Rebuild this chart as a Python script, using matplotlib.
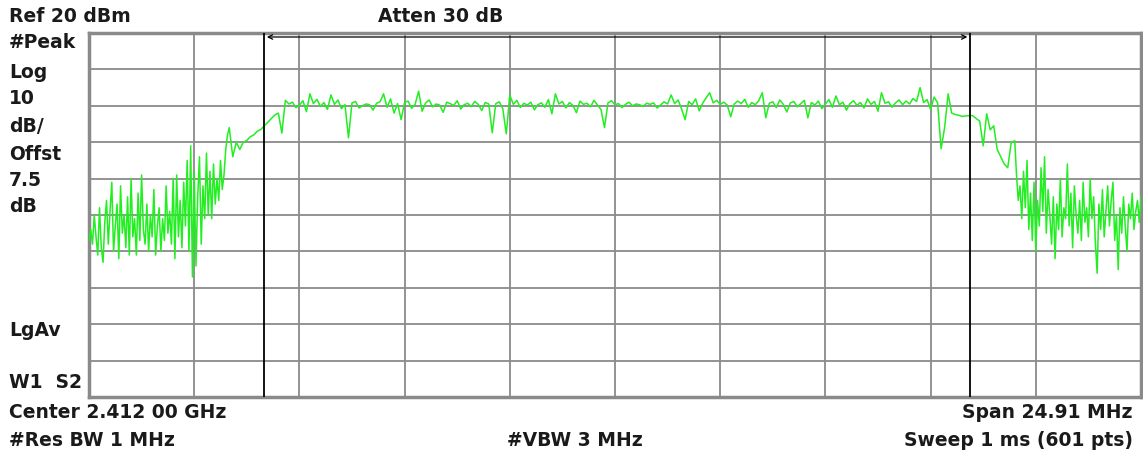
import numpy as np
import matplotlib.pyplot as plt

# sweep settings
center_mhz = 2412.0
span_mhz = 24.91
n_points = 601
ref_level = 20
db_per_div = 10
marker_freqs = [2403.69, 2420.41]

# trace (dBm). noisy skirts at every sweep point, the rest at every second point
# skirt A: sweep points 0..79
trace_a = [
    -37, -34, -38, -30, -36, -41, -28, -39, -43, -32,
    -26, -38, -29, -21, -40, -33, -27, -42, -22, -35,
    -30, -39, -25, -41, -20, -36, -31, -41, -24, -37,
    -19, -34, -38, -27, -40, -30, -36, -23, -41, -33,
    -28, -40, -31, -37, -22, -35, -29, -38, -20, -42,
    -19, -36, -26, -39, -21, -33, -15, -40, -11, -47,
    -18, -44, -25, -14, -38, -22, -31, -13, -30, -18,
    -31, -16, -27, -20, -26, -15, -23, -19, -12, -8,
]
# band B: sweep points 80..528, step 2
trace_b = [
    -6, -14, -10, -12, -10, -9.5, -8.5, -8, -7, -6.5,
    -5.5, -4.5, -3.5, -2.5, -2.0, -7.5,
    1.5, 0.5, 1.0, -0.5, 0.2, 1.4, -1.6, 3.3, 0.6, 1.8,
    -0.2, 0.9, -1.0, 3.0, 0.4, 1.6, -0.8, 0.3, -8.8, 0.8,
    1.2, -0.6, 0.0, 0.5, 0.3, -1.2, 0.7, 1.1, 3.3, -0.4,
    1.9, -2.0, 0.6, -3.8, 0.9, 1.3, -0.7, 0.4, 4.0, -1.5,
    0.8, 1.6, -0.3, 0.5, 0.2, -1.8, 1.0, 0.6, 0.1, 1.4,
    -0.9, 0.3, 0.7, -0.2, 1.2, 0.4, -1.3, 0.9, 0.5, -7.4,
    0.6, 1.1, -0.8, -7.7, 3.0, 0.4, 1.5, -0.5, 0.7, 0.2,
    1.0, -1.1, 0.3, 0.8, -0.4, 1.7, -2.2, 3.3, 0.5, 1.2,
    -0.6, 0.9, 0.1, -1.9, 1.3, 0.4, 0.7, -0.3, 1.5, 0.2,
    -1.0, -6.0, 0.8, 1.4, 0.3, 0.6, -0.5, 0.4, 1.0, 0.0,
    0.5, 0.3, -0.2, 0.7, 0.4, 0.8, -0.6, 0.2, 1.1, 0.5,
    3.0, 0.6, 1.6, -0.9, -3.8, 1.2, 0.3, 1.9, -1.4, 0.7,
    2.2, 3.6, 0.8, 1.5, 0.4, 1.0, 0.2, -3.0, 0.5, 1.3,
    0.6, 1.8, -0.4, 0.9, 0.3, 1.4, 3.6, -3.3, 0.7, 1.1,
    -0.5, 1.6, 0.4, -1.7, 0.8, 1.2, -0.3, 0.6, 1.5, -3.3,
    0.9, 0.2, 1.3, -0.8, 0.5, 1.7, -0.4, 2.7, 0.3, 1.0,
    -1.2, 0.6, 1.4, 0.1, 0.9, -0.6, 1.9, 0.4, 1.2, -1.5,
    3.6, 0.7, 1.1, -0.4, 0.8, 1.6, 0.3, 1.3, 0.5, 2.0,
    1.2, 5.0, 0.9, 1.7, -1.0, 2.4, 0.8, -11.8, -6.0, 3.3,
    -2.0, -2.4, -2.6, -2.9, -2.8, -2.7, -2.7, -3.5, -4.2, -11.0,
    -2.2, -6.6, -5.5, -12.0, -14.0, -16.0, -17.0, -10.0, -9.6,
]
# skirt C: sweep points 529..600
trace_c = [
    -19, -26, -22, -31, -18, -28, -15, -34, -24, -37,
    -21, -40, -26, -33, -17, -29, -14, -35, -23, -30,
    -38, -25, -42, -27, -34, -20, -36, -28, -31, -16,
    -33, -24, -39, -22, -30, -35, -26, -37, -21, -32,
    -28, -36, -20, -31, -25, -38, -46, -27, -34, -23,
    -36, -29, -22, -33, -26, -21, -37, -30, -45, -28,
    -35, -25, -33, -40, -27, -31, -24, -34, -29, -26, -32, -25,
]

sweep_idx = np.concatenate([np.arange(0, 80), np.arange(80, 529, 2), np.arange(529, n_points)])
trace = np.array(trace_a + trace_b + trace_c)
f_start = center_mhz - span_mhz / 2
f_stop = center_mhz + span_mhz / 2
freqs = f_start + sweep_idx * span_mhz / (n_points - 1)

fig = plt.figure(figsize=(11.43, 4.59), dpi=100)
ax = fig.add_axes([89 / 1143, 1 - 397 / 459, 1052 / 1143, 364 / 459])

bottom = ref_level - 10 * db_per_div
ax.set_xlim(f_start, f_stop)
ax.set_ylim(bottom, ref_level)
ax.set_xticks(np.linspace(f_start, f_stop, 11))
ax.set_yticks(np.arange(bottom, ref_level + 1, db_per_div))
ax.grid(True, color='#8a8a8a', linewidth=1.3)
ax.tick_params(length=0, labelbottom=False, labelleft=False)
for s in ax.spines.values():
    s.set_color('#8a8a8a')
    s.set_linewidth(2.5)

ax.plot(freqs, trace, color='#22ee22', linewidth=1.1, zorder=3)

# band markers and arrow
for mf in marker_freqs:
    ax.axvline(mf, color='black', linewidth=1.3, zorder=4)
ax.annotate('', xy=(marker_freqs[1], ref_level - 1.1), xytext=(marker_freqs[0], ref_level - 1.1),
            arrowprops=dict(arrowstyle='<->', color='black', lw=0.9, mutation_scale=8),
            zorder=5)

font = dict(family='DejaVu Sans', fontweight='bold', fontsize=13.5, color='#1a1a1a')
left_labels = [('Ref 20 dBm', 17), ('#Peak', 43), ('Log', 72), ('10', 99), ('dB/', 126),
               ('Offst', 154), ('7.5', 180), ('dB', 207), ('LgAv', 330), ('W1  S2', 383)]
for txt, y in left_labels:
    fig.text(9 / 1143, 1 - y / 459, txt, va='center', ha='left', **font)
fig.text(378 / 1143, 1 - 17 / 459, 'Atten 30 dB', va='center', ha='left', **font)
fig.text(9 / 1143, 1 - 412 / 459, 'Center 2.412 00 GHz', va='center', ha='left', **font)
fig.text(1133 / 1143, 1 - 412 / 459, 'Span 24.91 MHz', va='center', ha='right', **font)
fig.text(9 / 1143, 1 - 441 / 459, '#Res BW 1 MHz', va='center', ha='left', **font)
fig.text(507 / 1143, 1 - 441 / 459, '#VBW 3 MHz', va='center', ha='left', **font)
fig.text(1133 / 1143, 1 - 441 / 459, 'Sweep 1 ms (601 pts)', va='center', ha='right', **font)

fig.savefig('out.png', dpi=100)
